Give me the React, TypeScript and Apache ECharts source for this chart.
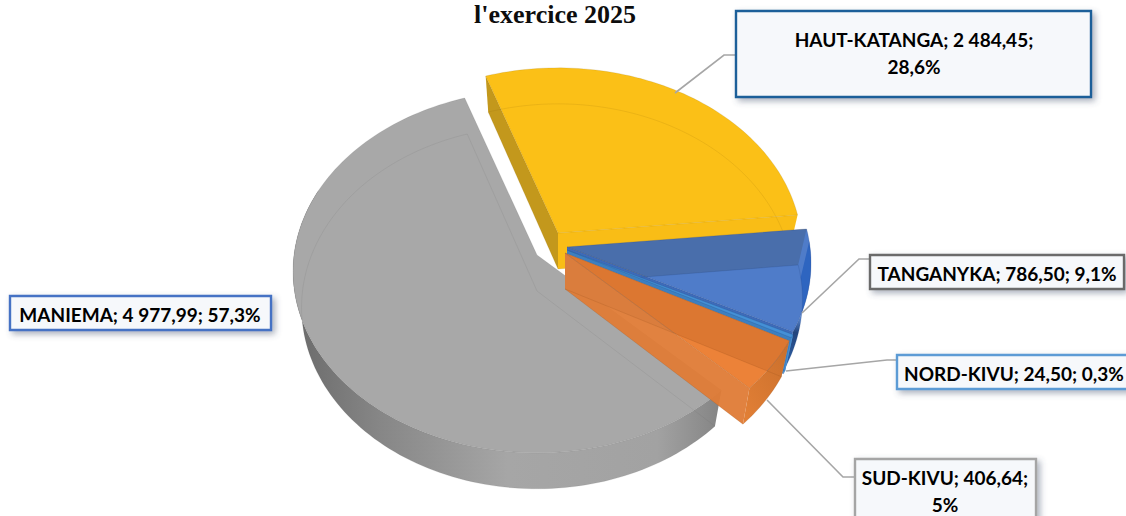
import React, { useEffect, useRef } from "react";
import * as echarts from "echarts";

const categories = ["MANIEMA", "HAUT-KATANGA", "TANGANYKA", "NORD-KIVU", "SUD-KIVU"];
const amounts = [4977.99, 2484.45, 786.5, 24.5, 406.64];
const labelTexts = [
  "MANIEMA; 4 977,99; 57,3%",
  "HAUT-KATANGA; 2 484,45;\n28,6%",
  "TANGANYKA; 786,50; 9,1%",
  "NORD-KIVU; 24,50; 0,3%",
  "SUD-KIVU; 406,64;\n5%",
];
const titleText = "l'exercice 2025";

// Projection of the tilted disc
const START_ANGLE = 134.7;
const RADIUS_X = 243;
const RADIUS_Y = 180;
const PERSPECTIVE = 0.09;
const DEPTH = 36;
const BOTTOM_SHRINK = 0.965;

// Per-slice look
const apexes = [[537, 255], [558, 233], [567, 247], [567, 250], [565, 253]];
const topFills = ["#a8a8a8", "rgba(251,190,16,0.97)", "rgba(35,91,187,0.8)", "rgba(70,145,215,0.95)", "rgba(233,113,29,0.88)"];
const startWalls = ["", "#c3981c", "#e0b868", "#3d7fc0", "#7fa0c0"];
const endWalls = ["", "#f9bd16", "#3e6bb8", "#3d7fc0", "rgba(223,123,54,0.95)"];
const rimColors = ["", "", "#2b5a9c", "#4a8fd0", ""];
const edgeColors = ["rgba(90,90,90,0.2)", "rgba(130,95,10,0.22)", "rgba(30,60,120,0.3)", "rgba(30,80,140,0.35)", "rgba(140,70,20,0.3)"];

// Label boxes: x, y, width, height
const boxes = [[10, 296, 261, 34], [736, 11, 355, 86], [870, 255, 254, 34], [897, 355, 240, 34], [855, 459, 181, 70]];
const boxBorders = ["#4472c4", "#1f5f99", "#6b6b6b", "#5b9bd5", "#a5a5a5"];
const textCentres = [[140, 314], [914, 53], [997, 273], [1014, 373], [945, 491]];
const leaders = [
  null,
  [[675, 93], [724, 55], [736, 55]],
  [[802, 313], [859, 259], [870, 259]],
  [[786, 371], [887, 360], [897, 360]],
  [[767, 400], [843, 477], [855, 477]],
];

const total = amounts.reduce((a, b) => a + b, 0);
const sweeps = amounts.map((v) => (v / total) * 360);

function rimPoint(deg: number, apex: number[], bottom: boolean) {
  const t = (deg * Math.PI) / 180;
  const p = 1 / (1 + PERSPECTIVE * Math.cos(t));
  const s = bottom ? BOTTOM_SHRINK : 1;
  return [apex[0] + RADIUS_X * s * Math.sin(t) * p, apex[1] - RADIUS_Y * Math.cos(t) * p + (bottom ? DEPTH : 0)];
}

function arc(a0: number, a1: number, apex: number[], bottom: boolean) {
  const pts: number[][] = [];
  for (let a = a0; a < a1; a += 1.5) pts.push(rimPoint(a, apex, bottom));
  pts.push(rimPoint(a1, apex, bottom));
  return pts;
}

function renderSlice(params: any, api: any) {
  const i = params.dataIndex;
  const value = api.value(0);
  let a0 = START_ANGLE;
  for (let k = 0; k < i; k++) a0 += sweeps[k];
  const a1 = a0 + (value / total) * 360;
  const apex = apexes[i];
  const low = [apex[0], apex[1] + DEPTH];
  const topArc = arc(a0, a1, apex, false);
  const botArc = arc(a0, a1, apex, true);
  const children: any[] = [];

  if (startWalls[i]) {
    const startQuad = [apex, rimPoint(a0, apex, false), rimPoint(a0, apex, true), low];
    const endQuad = [apex, rimPoint(a1, apex, false), rimPoint(a1, apex, true), low];
    children.push({ type: "polygon", shape: { points: startQuad }, style: { fill: startWalls[i] } });
    children.push({ type: "polygon", shape: { points: endQuad }, style: { fill: endWalls[i] } });
  }

  // Outer wall: only the part of the rim that faces the viewer
  const inFront = (a: number) => {
    const m = ((a % 360) + 360) % 360;
    return m >= 88 && m <= 292;
  };
  const steps: number[] = [];
  for (let a = a0; a <= a1; a += 1) if (inFront(a)) steps.push(a);
  if (inFront(a1)) steps.push(a1);
  if (steps.length > 1) {
    const wa0 = steps[0];
    const wa1 = steps[steps.length - 1];
    let fill: any = rimColors[i];
    if (i === 0) {
      fill = new echarts.graphic.LinearGradient(0, 0, 1, 0, [
        { offset: 0, color: "#6a6a6a" },
        { offset: 0.2, color: "#868686" },
        { offset: 0.5, color: "#a6a6a6" },
        { offset: 0.85, color: "#a2a2a2" },
        { offset: 1, color: "#848484" },
      ]);
    } else if (i === 4) {
      fill = new echarts.graphic.LinearGradient(0, 1, 1, 0, [
        { offset: 0, color: "#e38036" },
        { offset: 1, color: "#c96f2c" },
      ]);
    } else if (i === 2) {
      fill = new echarts.graphic.LinearGradient(0, 0, 0, 1, [
        { offset: 0, color: "#5c8ad2" },
        { offset: 0.6, color: "#5c8ad2" },
        { offset: 0.72, color: "#23457d" },
        { offset: 1, color: "#2f62a8" },
      ]);
    }
    children.push({
      type: "polygon",
      shape: { points: [...arc(wa0, wa1, apex, false), ...arc(wa0, wa1, apex, true).reverse()] },
      style: { fill },
    });
  }

  children.push({
    type: "polygon",
    shape: { points: [apex, ...topArc] },
    style: { fill: topFills[i], stroke: edgeColors[i], lineWidth: 0.7 },
  });
  // Bottom outline, seen through the translucent top
  children.push({
    type: "polyline",
    shape: { points: [low, ...botArc, low] },
    style: { fill: "none", stroke: edgeColors[i], lineWidth: 0.6 },
  });
  return { type: "group", children };
}

const labelFont = "Lato, 'Open Sans', sans-serif";

export default function App() {
  const ref = useRef<HTMLDivElement>(null);
  useEffect(() => {
    document.body.style.margin = "0";
    const chart = echarts.init(ref.current!, null, { renderer: "svg" });
    const elements: any[] = [];
    categories.forEach((_, i) => {
      const l = leaders[i];
      if (l) {
        elements.push({
          type: "polyline",
          z: 5,
          shape: { points: l },
          style: { fill: "none", stroke: "#a6a6a6", lineWidth: 1.6 },
        });
      }
    });
    categories.forEach((_, i) => {
      const [x, y, w, h] = boxes[i];
      elements.push({
        type: "rect",
        z: 6,
        shape: { x, y, width: w, height: h },
        style: {
          fill: "#f6f8fb",
          stroke: boxBorders[i],
          lineWidth: 2.4,
          shadowBlur: 6,
          shadowOffsetX: 3,
          shadowOffsetY: 3,
          shadowColor: "rgba(70,85,110,0.45)",
        },
      });
      elements.push({
        type: "text",
        z: 7,
        x: textCentres[i][0],
        y: textCentres[i][1],
        style: {
          text: labelTexts[i],
          fontFamily: labelFont,
          fontWeight: "bold",
          fontSize: 19,
          lineHeight: 27,
          fill: "#000000",
          align: "center",
          verticalAlign: "middle",
        },
      });
    });
    chart.setOption({
      animation: false,
      backgroundColor: "#ffffff",
      title: {
        text: titleText,
        left: 550,
        top: -4,
        textAlign: "center",
        textStyle: { fontFamily: "'Liberation Serif', serif", fontWeight: "bold", fontSize: 26, color: "#0d0d0d" },
      },
      series: [
        {
          type: "custom",
          coordinateSystem: "none",
          silent: true,
          data: amounts.map((v, i) => ({ name: categories[i], value: [v] })),
          renderItem: renderSlice,
        },
      ],
      graphic: { elements },
    });
    return () => chart.dispose();
  }, []);
  return <div ref={ref} style={{ width: 1126, height: 516, overflow: "hidden" }} />;
}
